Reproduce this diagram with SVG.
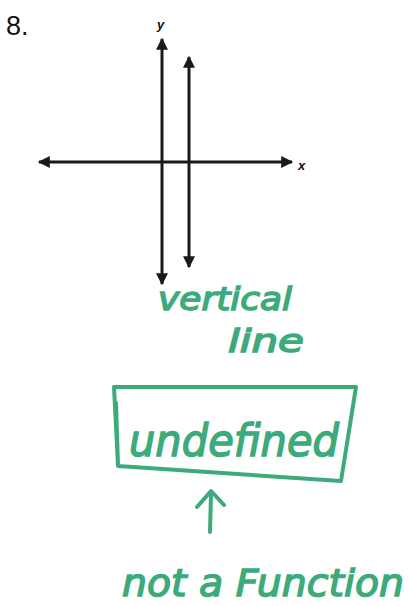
<svg xmlns="http://www.w3.org/2000/svg" width="409" height="606" viewBox="0 0 409 606">
<style>
.ax{stroke:#1a1a1a;stroke-width:3;fill:none}
.lbl{font-family:"Liberation Sans",Arial,sans-serif;fill:#111}
.hw{font-family:"DejaVu Sans",sans-serif;fill:#3daa7c;stroke:#3daa7c;stroke-width:1.5;font-style:italic}
.g{stroke:#3daa7c;stroke-width:4;fill:none;stroke-linecap:round;stroke-linejoin:round}
</style>
<defs>
<marker id="ah" viewBox="0 0 10 10" refX="9" refY="5" markerWidth="5" markerHeight="4" orient="auto-start-reverse" markerUnits="strokeWidth">
<path d="M0,0 L10,5 L0,10 Z" fill="#1a1a1a"/>
</marker>
</defs>
<rect width="409" height="606" fill="#fff"/>
<text class="lbl" x="6" y="35" font-size="27">8.</text>
<text class="lbl" x="157" y="29" font-size="13" font-style="italic" font-weight="bold">y</text>
<text class="lbl" x="298" y="170" font-size="13" font-style="italic" font-weight="bold">x</text>
<g id="connectors">
<line id="xaxis" class="ax" x1="39" y1="162" x2="292" y2="162" marker-start="url(#ah)" marker-end="url(#ah)"/>
<line id="yaxis" class="ax" x1="162" y1="39" x2="162" y2="284" marker-start="url(#ah)" marker-end="url(#ah)" stroke-width="2.5"/>
<line id="vline" class="ax" x1="189" y1="57" x2="189" y2="267" marker-start="url(#ah)" marker-end="url(#ah)"/>
<path id="uparrow" class="g" d="M210,532 L211,494 M197,507 L211,491 L224,505"/>
</g>
<g id="note1">
<text class="hw" x="158" y="310" font-size="32" textLength="134" lengthAdjust="spacingAndGlyphs">vertical</text>
<text class="hw" x="228" y="352" font-size="32" textLength="76" lengthAdjust="spacingAndGlyphs">line</text>
</g>
<g id="box">
<path class="g" d="M114,387 L356,387 L341,481 L118,466 Z M116,403 L118,465"/>
<text class="hw" x="129" y="456" font-size="44" textLength="210" lengthAdjust="spacingAndGlyphs">undefined</text>
</g>
<g id="note2">
<text class="hw" x="122" y="596" font-size="38" textLength="282" lengthAdjust="spacingAndGlyphs">not a Function</text>
</g>
</svg>
